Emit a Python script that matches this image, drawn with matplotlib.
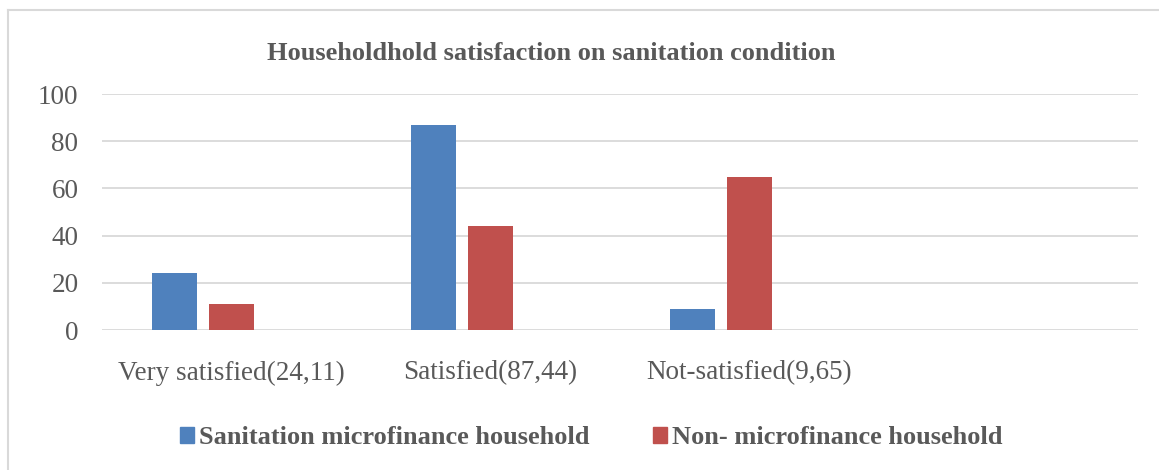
import numpy as np
import matplotlib
matplotlib.use("Agg")
import matplotlib.pyplot as plt
from matplotlib.lines import Line2D
from matplotlib.patches import Patch

plt.rcParams["font.family"] = ["Liberation Serif", "DejaVu Serif"]

# ---- data ----
categories = ["Very satisfied(24,11)", "Satisfied(87,44)", "Not-satisfied(9,65)", ""]
sanitation_mf = [24, 87, 9, np.nan]
non_mf = [11, 44, 65, np.nan]
series_names = ["Sanitation microfinance household", "Non- microfinance household"]
y_ticks = [0, 20, 40, 60, 80, 100]

BLUE = "#4F81BD"
RED = "#C0504D"
TEXT = "#595959"
GRID = "#D9D9D9"

W, H = 1159, 470
fig = plt.figure(figsize=(W / 100, H / 100), dpi=100)
ax = fig.add_axes([102 / W, 1 - 330 / H, (1138 - 102) / W, (330 - 94) / H])

x = np.arange(len(categories))
step = 0.22        # three series slots per category, third one is empty
width = 0.174
ax.bar(x - step, sanitation_mf, width, color=BLUE, zorder=3)
ax.bar(x, non_mf, width, color=RED, zorder=3)

ax.set_xlim(-0.5, len(categories) - 0.5)
ax.set_ylim(0, 100)
ax.set_yticks(y_ticks)
ax.set_xticks(x[:3])
ax.set_xticklabels(categories[:3])
ax.tick_params(axis="y", length=0, pad=17, labelsize=19.5, labelcolor=TEXT)
ax.tick_params(axis="x", length=0, pad=22, labelsize=19.5, labelcolor=TEXT)
ax.grid(axis="y", color=GRID, linewidth=1.3, zorder=0)
for s in ax.spines.values():
    s.set_visible(False)

fig.text(551 / W, 1 - 53 / H, "Householdhold satisfaction on sanitation condition",
         ha="center", va="center", fontsize=19, fontweight="bold", color=TEXT)

handles = [Patch(color=BLUE), Patch(color=RED)]
fig.legend(handles, series_names, loc="center", bbox_to_anchor=(591 / W, 1 - 438 / H),
           ncol=2, frameon=False, handlelength=0.53, handleheight=0.53,
           handletextpad=0.2, columnspacing=2.4,
           prop={"size": 19, "weight": "bold"}, labelcolor=TEXT)

# chart border (top and left edges visible)
fig.add_artist(Line2D([8 / W, 1], [1 - 10 / H, 1 - 10 / H], color=GRID, linewidth=1.5))
fig.add_artist(Line2D([8 / W, 8 / W], [0, 1 - 10 / H], color=GRID, linewidth=1.5))

fig.savefig("out.png", dpi=100)
